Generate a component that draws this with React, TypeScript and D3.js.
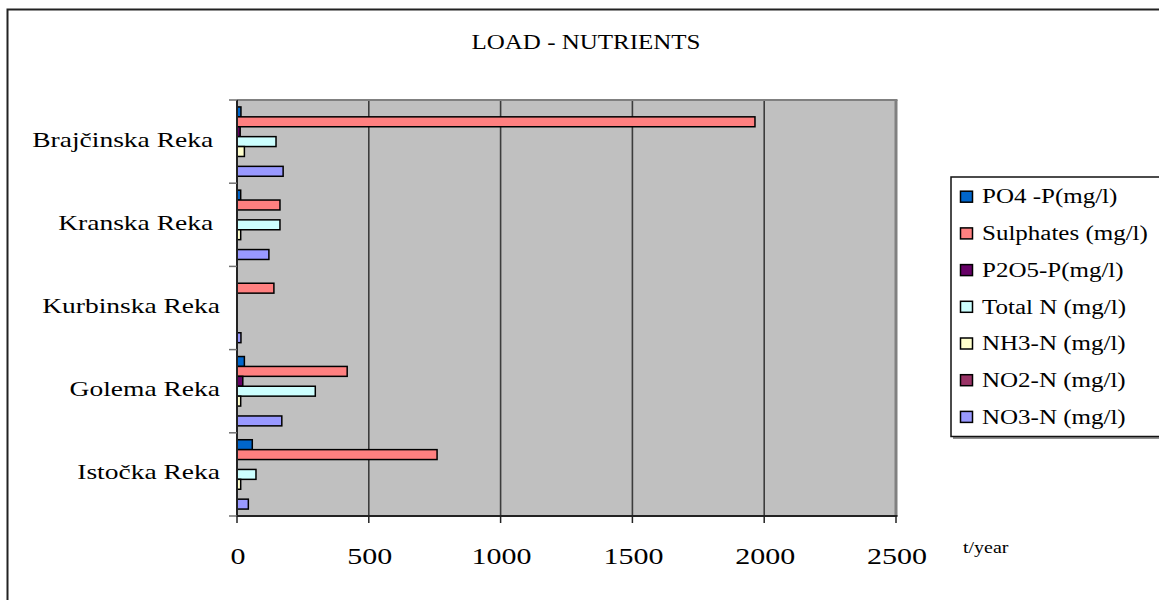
import { scaleBand, scaleLinear } from "d3";

const categories = [
  "Brajčinska Reka ",
  "Kranska Reka ",
  "Kurbinska Reka",
  "Golema Reka",
  "Istočka Reka",
];
const seriesNames = [
  "PO4 -P(mg/l)",
  "Sulphates (mg/l)",
  "P2O5-P(mg/l)",
  "Total N (mg/l)",
  "NH3-N (mg/l)",
  "NO2-N (mg/l)",
  "NO3-N (mg/l)",
];
const seriesColors = [
  "#0066CC",
  "#FF8080",
  "#660066",
  "#CCFFFF",
  "#FFFFCC",
  "#993366",
  "#9999FF",
];
const po4 = [15, 14, 0, 28, 58];
const sulphates = [1965, 163, 140, 418, 759];
const p2o5 = [12, 0, 0, 22, 0];
const totalN = [148, 163, 0, 297, 72];
const nh3 = [28, 14, 0, 14, 14];
const no2 = [0, 0, 0, 0, 0];
const no3 = [175, 121, 15, 170, 43];
const seriesValues = [po4, sulphates, p2o5, totalN, nh3, no2, no3];
const xTicks = [0, 500, 1000, 1500, 2000, 2500];

const width = 1159;
const height = 600;
const plotLeft = 237;
const plotRight = 896;
const plotTop = 100;
const plotBottom = 516;
const font = "'Liberation Serif', 'Times New Roman', serif";
const stretch = 1.25;

const Txt = ({
  x,
  y,
  size,
  anchor = "start",
  children,
}: {
  x: number;
  y: number;
  size: number;
  anchor?: string;
  children: string;
}) => (
  <g transform={`translate(${x}, ${y}) scale(${stretch}, 1)`}>
    <text
      fontFamily={font}
      fontSize={size}
      textAnchor={anchor}
      fill="#000"
      style={{ whiteSpace: "pre" }}
    >
      {children}
    </text>
  </g>
);

export default function App() {
  const xScale = scaleLinear().domain([0, 2500]).range([plotLeft, plotRight]);
  const yScale = scaleBand<string>()
    .domain(categories)
    .range([plotTop, plotBottom]);
  const inner = scaleBand<number>()
    .domain(seriesNames.map((_, i) => i))
    .range([0, yScale.bandwidth()])
    .paddingOuter(0.7);

  const boundaries = categories.map((c) => yScale(c) ?? 0).concat(plotBottom);

  const legendX = 951;
  const legendY = 177;
  const rowStep = 36.7;

  return (
    <svg
      width={width}
      height={height}
      style={{ position: "absolute", left: 0, top: 0, background: "#fff" }}
    >
      <rect x={7.5} y={9.5} width={1200} height={700} fill="#fff" stroke="#222" strokeWidth={2} />

      <Txt x={586} y={49} size={20} anchor="middle">
        LOAD - NUTRIENTS
      </Txt>

      {/* plot area */}
      <rect
        x={plotLeft}
        y={plotTop}
        width={plotRight - plotLeft}
        height={plotBottom - plotTop}
        fill="#C0C0C0"
      />
      {xTicks.slice(1, -1).map((t) => (
        <line
          key={t}
          x1={xScale(t)}
          x2={xScale(t)}
          y1={plotTop}
          y2={plotBottom}
          stroke="#3c3c3c"
          strokeWidth={1.6}
        />
      ))}
      <line x1={plotLeft} x2={plotRight + 1.5} y1={plotTop} y2={plotTop} stroke="#808080" strokeWidth={2} />
      <line x1={plotRight} x2={plotRight} y1={plotTop} y2={plotBottom} stroke="#808080" strokeWidth={3} />

      {/* bars */}
      {seriesValues.map((vals, s) =>
        vals.map((v, c) =>
          v > 0 ? (
            <rect
              key={`${s}-${c}`}
              x={xScale(0)}
              y={(yScale(categories[c]) ?? 0) + (inner(s) ?? 0)}
              width={xScale(v) - xScale(0)}
              height={inner.bandwidth()}
              fill={seriesColors[s]}
              stroke="#000"
              strokeWidth={1.5}
            />
          ) : null,
        ),
      )}

      {/* axes */}
      <line x1={plotLeft} x2={plotLeft} y1={plotTop} y2={plotBottom} stroke="#222" strokeWidth={2} />
      {boundaries.map((b, i) => (
        <line key={i} x1={plotLeft - 8} x2={plotLeft} y1={b} y2={b} stroke="#707070" strokeWidth={1.5} />
      ))}
      <line x1={plotLeft} x2={plotRight + 1.5} y1={plotBottom} y2={plotBottom} stroke="#222" strokeWidth={2} />
      {xTicks.map((t) => (
        <g key={t}>
          <line
            x1={xScale(t)}
            x2={xScale(t)}
            y1={plotBottom}
            y2={plotBottom + 7}
            stroke="#222"
            strokeWidth={1.5}
          />
          <Txt x={xScale(t) + 1} y={564} size={24} anchor="middle">
            {String(t)}
          </Txt>
        </g>
      ))}
      <Txt x={963} y={553} size={16}>
        t/year
      </Txt>

      {categories.map((c) => (
        <Txt key={c} x={220} y={(yScale(c) ?? 0) + yScale.bandwidth() / 2 + 5} size={22} anchor="end">
          {c}
        </Txt>
      ))}

      {/* legend */}
      <line x1={legendX + 2} x2={legendX + 230} y1={legendY + 261} y2={legendY + 261} stroke="#909090" strokeWidth={2} />
      <rect
        x={legendX}
        y={legendY}
        width={230}
        height={259.5}
        fill="#fff"
        stroke="#111"
        strokeWidth={1.5}
      />
      {seriesNames.map((n, i) => {
        const cy = legendY + 19.7 + i * rowStep;
        return (
          <g key={n}>
            <rect
              x={legendX + 9.5}
              y={cy - 5.5}
              width={12}
              height={11}
              fill={seriesColors[i]}
              stroke="#000"
              strokeWidth={1.5}
            />
            <Txt x={legendX + 31} y={cy + 6.7} size={20}>
              {n}
            </Txt>
          </g>
        );
      })}
    </svg>
  );
}
